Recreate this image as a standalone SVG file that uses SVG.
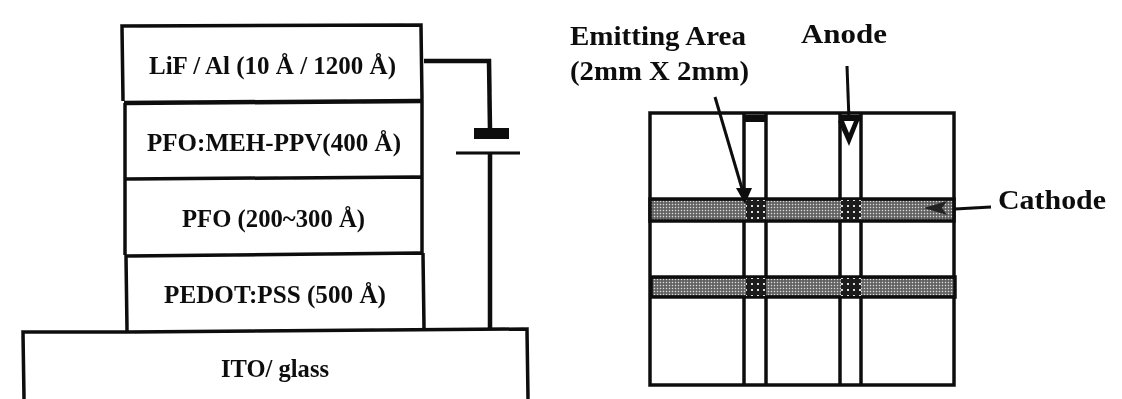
<svg xmlns="http://www.w3.org/2000/svg" width="1122" height="399" viewBox="0 0 1122 399">
<style>
text{font-family:"Liberation Serif","Times New Roman",serif;font-weight:bold;fill:#111;text-anchor:start}
.l{font-size:25px}
.r{font-size:27px}
.b{fill:none;stroke:#0a0a0a;stroke-width:3.5}
.w{fill:none;stroke:#0a0a0a;stroke-width:4.5}
.t{fill:none;stroke:#0a0a0a;stroke-width:3}
.bar{fill:url(#dots);stroke:#0a0a0a;stroke-width:3.5}
.x{fill:url(#dark)}
</style>
<defs>
<pattern id="dots" width="3" height="3" patternUnits="userSpaceOnUse"><rect width="3" height="3" fill="#777"/><rect width="1" height="1" fill="#ddd"/><rect x="1.5" y="1.5" width="1" height="1" fill="#222"/></pattern>
<pattern id="dark" width="6" height="6" patternUnits="userSpaceOnUse"><rect width="6" height="6" fill="#1c1c1c"/><rect x="1" y="1" width="2" height="2" fill="#ddd"/></pattern>
<filter id="soft" x="-5%" y="-5%" width="110%" height="110%"><feGaussianBlur stdDeviation="0.5"/></filter>
</defs>
<rect width="1122" height="399" fill="#fff"/>
<g filter="url(#soft)">
<g id="layer-lif">
<path class="b" d="M123 101L122 26L421 25L422 101"/>
<path d="M124 103L422 101" class="w"/>
<text class="l" x="149" y="74" textLength="247" lengthAdjust="spacingAndGlyphs">LiF / Al (10 Å / 1200 Å)</text>
</g>
<g id="layer-meh">
<path class="b" d="M125 103L125 178M422 101L422 177"/>
<text class="l" x="147" y="151" textLength="254" lengthAdjust="spacingAndGlyphs">PFO:MEH-PPV(400 Å)</text>
</g>
<g id="layer-pfo">
<path class="b" d="M125 179L422 177M125 178L125 255M422 177L422 253"/>
<text class="l" x="182" y="227" textLength="183" lengthAdjust="spacingAndGlyphs">PFO (200~300 Å)</text>
</g>
<g id="layer-pedot">
<path class="b" d="M126 256L423 253M126 255L127 331M423 253L424 329"/>
<text class="l" x="164" y="303" textLength="222" lengthAdjust="spacingAndGlyphs">PEDOT:PSS (500 Å)</text>
</g>
<g id="layer-ito">
<path class="b" d="M24 399L23 332L127 332L527 329L528 399"/>
<text class="l" x="221" y="377" textLength="108" lengthAdjust="spacingAndGlyphs">ITO/ glass</text>
</g>
<g id="connectors">
<path class="w" d="M424 61L489 61L490 130"/>
<rect x="474" y="128" width="35" height="11" fill="#111"/>
<path class="t" d="M456 153L520 153"/>
<path class="w" d="M490 153L490 329"/>
</g>
<g id="device">
<rect class="b" x="650" y="113" width="304" height="272"/>
<path class="b" d="M744 113V385M766 113V385M840 113V385M861 113V385"/>
<rect x="744" y="115" width="22" height="7" fill="#111"/>
<rect x="840" y="115" width="21" height="6" fill="#111"/>
<rect class="bar" x="650" y="199" width="304" height="22"/>
<rect class="bar" x="651" y="277" width="304" height="20"/>
<rect class="x" x="746" y="200" width="20" height="20"/>
<rect class="x" x="841" y="200" width="20" height="20"/>
<rect class="x" x="746" y="278" width="20" height="18"/>
<rect class="x" x="841" y="278" width="20" height="18"/>
</g>
<g id="arrows">
<path class="t" d="M715 97L743 192"/>
<path d="M736 188L752 188L745 204Z" fill="#111"/>
<path class="t" d="M847 66L849 120"/>
<path d="M838 121L859 121L849 146Z" fill="#111"/>
<path d="M844 121L854 121L849 133Z" fill="#fff"/>
<path class="t" d="M991 207L955 209"/>
<path d="M924 208L947 201L942 208L947 215Z" fill="#222"/>
</g>
<g id="labels">
<text class="r" x="570" y="45" textLength="176" lengthAdjust="spacingAndGlyphs">Emitting Area</text>
<text class="r" x="570" y="80" textLength="179" lengthAdjust="spacingAndGlyphs">(2mm X 2mm)</text>
<text class="r" x="801" y="43" textLength="86" lengthAdjust="spacingAndGlyphs">Anode</text>
<text class="r" x="998" y="209" textLength="108" lengthAdjust="spacingAndGlyphs">Cathode</text>
</g>
</g>
</svg>
